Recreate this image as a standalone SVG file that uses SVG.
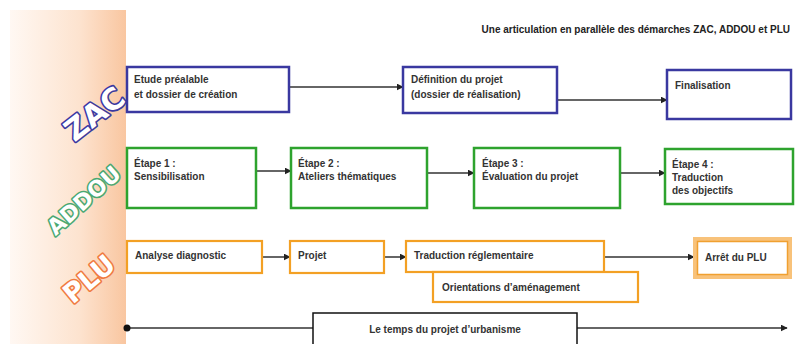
<svg xmlns="http://www.w3.org/2000/svg" width="803" height="344" viewBox="0 0 803 344">
<defs>
<linearGradient id="strip" x1="0" y1="0" x2="1" y2="0">
<stop offset="0" stop-color="#fff8f3"/>
<stop offset="0.6" stop-color="#fde3cf"/>
<stop offset="1" stop-color="#f9c6a0"/>
</linearGradient>
<marker id="ah" viewBox="0 0 10 10" refX="9" refY="5" markerWidth="7" markerHeight="7" markerUnits="userSpaceOnUse" orient="auto">
<path d="M0,0 L10,5 L0,10 z" fill="#222"/>
</marker>
</defs>
<style>
.t{font-family:"Liberation Sans",Arial,sans-serif;font-size:10px;font-weight:bold;fill:#333}
.zac{fill:#fff;stroke:#3a38a0;stroke-width:2.5}
.addou{fill:#fff;stroke:#2ea32e;stroke-width:2.5}
.plu{fill:#fff;stroke:#f3a024;stroke-width:2.2}
.c{fill:none;stroke:#333;stroke-width:1.5;marker-end:url(#ah)}
.lbl{font-family:"DejaVu Sans",sans-serif;font-weight:bold;fill:#fff;stroke-width:3.2;paint-order:stroke;stroke-linejoin:round;text-anchor:middle}
</style>
<rect x="0" y="0" width="803" height="344" fill="#fff"/>
<rect x="10" y="10" width="116" height="334" fill="url(#strip)"/>
<text x="0" y="0" transform="translate(790,33) scale(0.87,1)" text-anchor="end" font-family="Liberation Sans,Arial,sans-serif" font-size="11.5" font-weight="bold" fill="#222">Une articulation en parallèle des démarches ZAC, ADDOU et PLU</text>

<g id="labels">
<text class="lbl" x="0" y="0" font-size="30" stroke="#3a38a0" transform="translate(101,122) rotate(-38)">ZAC</text>
<text class="lbl" x="0" y="0" font-size="22" stroke="#4aa872" transform="translate(89,206) rotate(-42)">ADDOU</text>
<text class="lbl" x="0" y="0" font-size="27" stroke="#f07a40" transform="translate(95,286) rotate(-40)">PLU</text>
</g>

<g id="connectors">
<line class="c" x1="289" y1="87" x2="403" y2="87"/>
<line class="c" x1="557" y1="100" x2="667" y2="100"/>
<line class="c" x1="256" y1="171" x2="291" y2="171"/>
<line class="c" x1="427" y1="173" x2="474" y2="173"/>
<line class="c" x1="620" y1="173" x2="665" y2="173"/>
<line class="c" x1="262" y1="257" x2="290" y2="257"/>
<line class="c" x1="384" y1="257" x2="406" y2="257"/>
<line class="c" x1="604" y1="257" x2="694" y2="257"/>
<line class="c" x1="127" y1="328" x2="787" y2="328" stroke="#111" stroke-width="2"/>
<circle cx="127" cy="328" r="3.5" fill="#111"/>
</g>

<g id="zac1"><rect class="zac" x="127" y="67" width="162" height="45"/><text class="t" x="134" y="83">Etude préalable</text><text class="t" x="134" y="98">et dossier de création</text></g>
<g id="zac2"><rect class="zac" x="403" y="67" width="154" height="46"/><text class="t" x="411" y="83">Définition du projet</text><text class="t" x="411" y="98">(dossier de réalisation)</text></g>
<g id="zac3"><rect class="zac" x="667" y="70" width="124" height="49"/><text class="t" x="675" y="89">Finalisation</text></g>

<g id="addou1"><rect class="addou" x="127" y="148" width="129" height="60"/><text class="t" x="134" y="167">Étape 1 :</text><text class="t" x="134" y="180">Sensibilisation</text></g>
<g id="addou2"><rect class="addou" x="291" y="148" width="136" height="60"/><text class="t" x="298" y="167">Étape 2 :</text><text class="t" x="298" y="180">Ateliers thématiques</text></g>
<g id="addou3"><rect class="addou" x="474" y="148" width="146" height="60"/><text class="t" x="482" y="167">Étape 3 :</text><text class="t" x="482" y="180">Évaluation du projet</text></g>
<g id="addou4"><rect class="addou" x="665" y="149" width="128" height="55"/><text class="t" x="672" y="168">Étape 4 :</text><text class="t" x="672" y="181">Traduction</text><text class="t" x="672" y="194">des objectifs</text></g>

<g id="plu1"><rect class="plu" x="127" y="241" width="135" height="32"/><text class="t" x="135" y="259">Analyse diagnostic</text></g>
<g id="plu2"><rect class="plu" x="290" y="241" width="94" height="32"/><text class="t" x="298" y="259">Projet</text></g>
<g id="plu3"><rect class="plu" x="406" y="241" width="198" height="31"/><text class="t" x="414" y="259">Traduction réglementaire</text></g>
<g id="plu4"><rect class="plu" x="433" y="272" width="205" height="30"/><text class="t" x="442" y="291">Orientations d’aménagement</text></g>
<g id="plu5"><rect x="695" y="239" width="95" height="38" fill="#fff" stroke="#f8c27a" stroke-width="4"/><rect x="697.5" y="241.5" width="90" height="33" fill="none" stroke="#f0a030" stroke-width="1.5"/><text class="t" x="705" y="261">Arrêt du PLU</text></g>

<g id="timeline"><rect x="313" y="313" width="264" height="40" fill="#fff" stroke="#111" stroke-width="1.5"/><text class="t" x="445" y="333" text-anchor="middle" font-size="9.5" fill="#222">Le temps du projet d’urbanisme</text></g>
</svg>
